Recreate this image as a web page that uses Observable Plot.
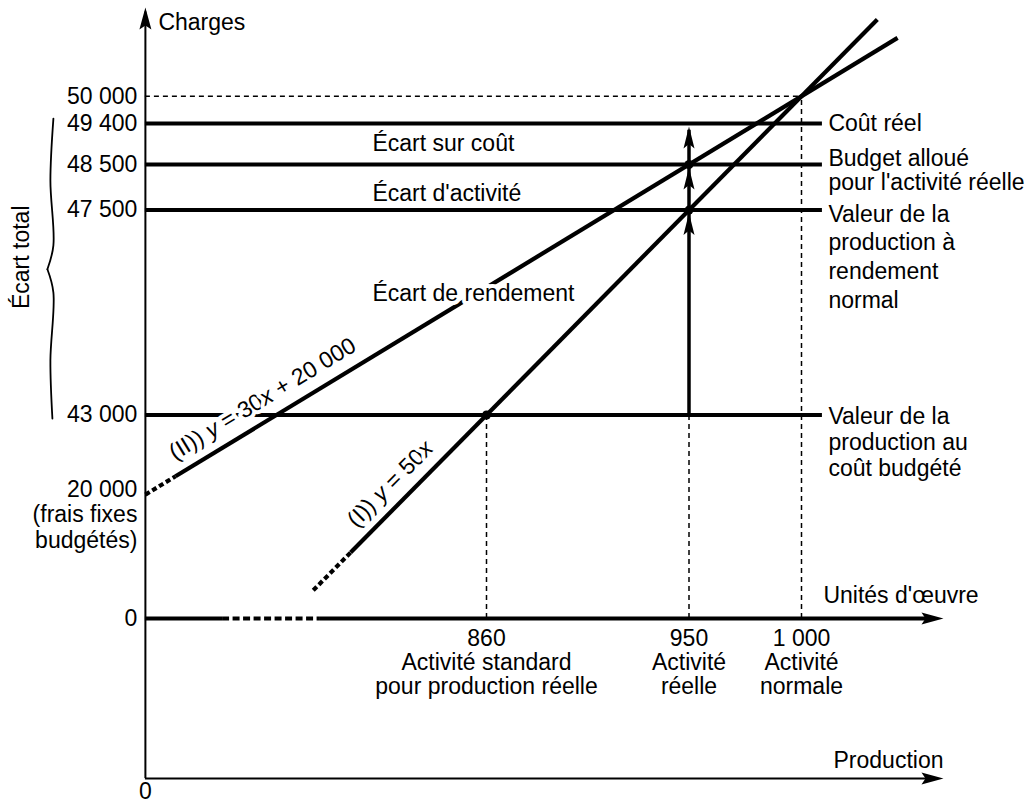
<!DOCTYPE html>
<html lang="fr">
<head>
<meta charset="utf-8">
<title>Écarts sur charges</title>
<script src="https://cdn.jsdelivr.net/npm/d3@7"></script>
<script src="https://cdn.jsdelivr.net/npm/@observablehq/plot@0.6"></script>
<style>
  html, body { margin: 0; padding: 0; background: #fff; }
  #chart svg { display: block; }
</style>
</head>
<body>
<div id="chart"></div>
<script>
// ---------------- Données ----------------
const activityTicks = [860, 950, 1000];
const activityNames = ["Activité standard\npour production réelle", "Activité\nréelle", "Activité\nnormale"];
const chargeTicks = [50000, 49400, 48500, 47500, 43000];
const levelValues = [49400, 48500, 47500, 43000];
const levelNames = [
  "Coût réel",
  "Budget alloué\npour l'activité réelle",
  "Valeur de la\nproduction à\nrendement\nnormal",
  "Valeur de la\nproduction au\ncoût budgété"
];
const varianceNames = ["Écart sur coût", "Écart d'activité", "Écart de rendement"];
const varianceLevels = [48950, 47850, 45670];
const fixedCosts = 20000;      // frais fixes budgétés
const standardRate = 50;       // (I)  y = 50x
const variableRate = 30;       // (II) y = 30x + 20 000
const normalActivity = 1000, actualActivity = 950, standardActivity = 860;
const actualCost = 49400, budgetActual = 48500, valueNormal = 47500, valueBudget = 43000, normalCost = 50000;
const keyPoints = [{x: 860, y: 43000}, {x: 950, y: 48500}, {x: 950, y: 47500}];
const equationTexts = ["(I)) y = 50x", "(II)) y = 30x + 20 000"];

// ---------------- Mise en page ----------------
const W = 1033, H = 804, FS = 23;
const FONT = "'Liberation Sans', Arial, Helvetica, sans-serif";
const xDomain = [860, 1000], xRange = [486, 801];
const yDomain = [43000, 50000], yRange = [414.5, 95.7];
const kx = (xRange[1] - xRange[0]) / (xDomain[1] - xDomain[0]);
const ky = (yRange[0] - yRange[1]) / (yDomain[1] - yDomain[0]);
// positions of the broken axes (in data units)
const axisX = 708.4, arrowX = 1063.1, zeroY = 38530, prodY = 35020, topY = 51950;
const levelEndX = 1009.3, varianceX = 809.3;
const zeroAxisSolid = [{x1: axisX, x2: 742.7}, {x1: 786.2, x2: arrowX - 4}];
const zeroAxisDotted = [{x1: 742.7, x2: 786.2}];
const costOf = {I: x => standardRate * x, II: x => variableRate * x + fixedCosts};
const lineSegments = [
  {eq: "I", style: "dotted", from: 783, to: 799.6},
  {eq: "I", style: "solid", from: 799.6, to: 1033.7},
  {eq: "II", style: "dotted", from: axisX, to: 721.8},
  {eq: "II", style: "solid", from: 721.8, to: 1042.7}
];
const linePts = lineSegments.flatMap((s, i) => [s.from, s.to].map(x => ({id: i, style: s.style, x, y: costOf[s.eq](x)})));
const eqLabelAt = [{eq: "I", x: 823.5, rate: standardRate, off: 20}, {eq: "II", x: 765.3, rate: variableRate, off: 21}];
const firstLineDy = -0.39 * FS;

// arrow head symbols, tip at origin pointing up
const arrowHead = {draw(ctx) { ctx.moveTo(0, 0); ctx.lineTo(5.5, 22); ctx.lineTo(0, 17.5); ctx.lineTo(-5.5, 22); ctx.closePath(); }};
const axisArrowHead = {draw(ctx) { ctx.moveTo(0, 0); ctx.lineTo(6, 22); ctx.lineTo(0, 18); ctx.lineTo(-6, 22); ctx.closePath(); }};
const axisArrows = [
  {x: axisX, y: topY, rot: 0},
  {x: arrowX, y: zeroY, rot: 90},
  {x: arrowX, y: prodY, rot: 90}
];
const varianceArrows = [actualCost, budgetActual, valueNormal].map(y => ({x: actualActivity, y}));

// brace "Écart total"
const span = actualCost - valueBudget;
const braceShape = [
  [0, -0.017, -92], [0, 0.195, -95], [0, 0.418, -92], [0, 0.5, -98],
  [1, 0.5, -98], [1, 0.58, -92], [1, 0.813, -95], [1, 1.012, -93]
];
const bracePts = braceShape.map(([h, t, off]) => ({h, x: axisX + off / kx, y: actualCost - t * span}));

const fmt = d => d3.format(",")(d).replace(/,/g, " ");
const lineHeights = [1, 1.05, 1.25, 1.13];
const levelDy = [0, -7, 0, 0];

const marks = [
  // axes
  Plot.ruleY([prodY], {x1: axisX, x2: arrowX - 4, strokeWidth: 2}),
  Plot.ruleX([axisX], {y1: prodY, y2: topY - 100, strokeWidth: 2}),
  Plot.ruleY(zeroAxisSolid, {y: () => zeroY, x1: "x1", x2: "x2", strokeWidth: 4}),
  Plot.ruleY(zeroAxisDotted, {y: () => zeroY, x1: "x1", x2: "x2", strokeWidth: 4, strokeDasharray: "7,3.5"}),
  // dashed references
  Plot.ruleY([normalCost], {x1: axisX, x2: normalActivity, strokeWidth: 1.5, strokeDasharray: "5,4"}),
  Plot.ruleX(activityTicks, {y1: zeroY, y2: d => d === normalActivity ? normalCost : valueBudget, strokeWidth: 1.5, strokeDasharray: "5,4"}),
  // charge levels
  Plot.ruleY(levelValues, {x1: axisX, x2: levelEndX, strokeWidth: 4}),
  // cost lines
  Plot.line(linePts.filter(d => d.style === "solid"), {x: "x", y: "y", z: "id", strokeWidth: 4.2, strokeLinecap: "butt"}),
  Plot.line(linePts.filter(d => d.style === "dotted"), {x: "x", y: "y", z: "id", strokeWidth: 4.2, strokeLinecap: "butt", strokeDasharray: "5,3"}),
  // variance arrow at actual activity
  Plot.ruleX([actualActivity], {y1: valueBudget, y2: actualCost - 150, strokeWidth: 3.5}),
  Plot.dot(varianceArrows, {x: "x", y: "y", symbol: arrowHead, fill: "black", dy: 3}),
  Plot.dot(axisArrows, {x: "x", y: "y", rotate: "rot", symbol: axisArrowHead, fill: "black"}),
  Plot.dot(keyPoints, {x: "x", y: "y", r: 4.5, fill: "black"}),
  // brace
  Plot.line(bracePts, {x: "x", y: "y", z: "h", curve: "catmull-rom", strokeWidth: 1.8}),
  // tick labels
  Plot.text(chargeTicks, {x: axisX, y: d => d, text: fmt, dx: -8, textAnchor: "end", fontSize: FS}),
  Plot.text(["0"], {x: axisX, y: zeroY, dx: -8, textAnchor: "end", fontSize: FS}),
  Plot.text([`${fmt(fixedCosts)}\n(frais fixes\nbudgétés)`], {x: axisX, y: costOf.II(axisX), dx: -8, textAnchor: "end", lineAnchor: "top", dy: firstLineDy - 6, lineHeight: 1.09, fontSize: FS}),
  Plot.text(activityTicks, {x: d => d, y: zeroY, text: (d, i) => `${fmt(d)}\n${activityNames[i]}`, textAnchor: "middle", lineAnchor: "top", dy: 19 + firstLineDy, lineHeight: 1.05, fontSize: FS}),
  // axis titles
  Plot.text(["Charges"], {x: axisX, y: topY, dx: 13, dy: 15, textAnchor: "start", fontSize: FS}),
  Plot.text(["Unités d'œuvre"], {x: levelEndX, y: zeroY, dx: 1, dy: -23, textAnchor: "start", fontSize: FS}),
  Plot.text(["Production"], {x: arrowX, y: prodY, dy: -18, textAnchor: "end", fontSize: FS}),
  Plot.text(["0"], {x: axisX, y: prodY, dy: 13, textAnchor: "middle", fontSize: FS}),
  Plot.text(["Écart total"], {x: axisX, y: (actualCost + valueBudget) / 2, dx: -124, dy: -12, rotate: -90, textAnchor: "middle", fontSize: FS}),
  // level labels on the right
  ...levelValues.map((v, i) => Plot.text([levelNames[i]], {x: levelEndX, y: v, dx: 6, dy: firstLineDy + levelDy[i], textAnchor: "start", lineAnchor: "top", lineHeight: lineHeights[i], fontSize: FS})),
  // variance labels
  Plot.text(varianceNames, {x: varianceX, y: (d, i) => varianceLevels[i], textAnchor: "start", fontSize: FS, stroke: "white", strokeWidth: 8, fill: "black", paintOrder: "stroke"}),
  // equation labels along the lines (offset perpendicular to the line, in screen space)
  ...eqLabelAt.map((l, i) => {
    const ang = Math.atan(l.rate * ky / kx);
    return Plot.text([equationTexts[i]], {
      x: l.x, y: costOf[l.eq](l.x), rotate: -ang * 180 / Math.PI,
      dx: -l.off * Math.sin(ang), dy: -l.off * Math.cos(ang),
      textAnchor: "middle", fontSize: FS, stroke: "white", strokeWidth: 8, fill: "black", paintOrder: "stroke"
    });
  })
];

const chart = Plot.plot({
  width: W, height: H,
  marginTop: 0, marginRight: 0, marginBottom: 0, marginLeft: 0,
  x: {type: "linear", domain: xDomain, range: xRange, axis: null},
  y: {type: "linear", domain: yDomain, range: yRange, axis: null},
  style: {fontFamily: FONT, fontSize: FS + "px", background: "white", color: "black", overflow: "visible"},
  marks
});

// italic variables in the equations
const NS = "http://www.w3.org/2000/svg";
chart.querySelectorAll("text").forEach(t => {
  const s = t.textContent;
  if (!/^\(I+\)\) y = /.test(s)) return;
  while (t.firstChild) t.removeChild(t.firstChild);
  s.split(/([xy])/).forEach(part => {
    if (!part) return;
    const ts = document.createElementNS(NS, "tspan");
    if (part === "x" || part === "y") ts.setAttribute("font-style", "italic");
    ts.textContent = part;
    t.appendChild(ts);
  });
});
document.getElementById("chart").appendChild(chart);
</script>
</body>
</html>
